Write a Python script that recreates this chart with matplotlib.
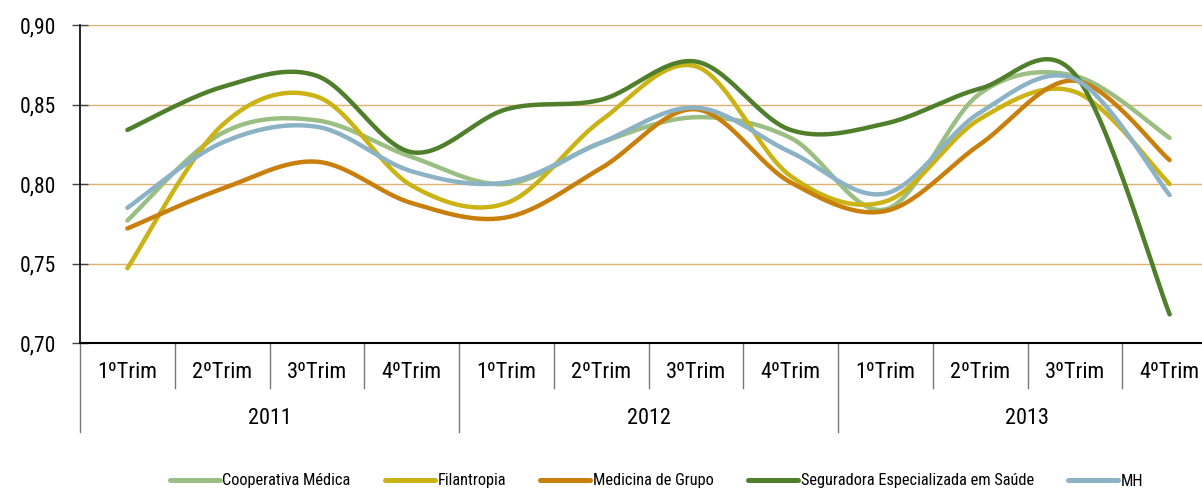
import numpy as np
import matplotlib
matplotlib.use("Agg")
import matplotlib.pyplot as plt
from matplotlib.lines import Line2D

plt.rcParams['font.family'] = ['Roboto Condensed', 'DejaVu Sans']

quarters = ['1ºTrim', '2ºTrim', '3ºTrim', '4ºTrim'] * 3
years = ['2011', '2012', '2013']

cooperativa = [0.777, 0.832, 0.840, 0.817, 0.800, 0.826, 0.842, 0.829, 0.784, 0.857, 0.868, 0.829]
filantropia = [0.747, 0.837, 0.855, 0.799, 0.788, 0.840, 0.874, 0.805, 0.789, 0.841, 0.858, 0.800]
medicina = [0.772, 0.797, 0.814, 0.788, 0.779, 0.810, 0.847, 0.801, 0.783, 0.825, 0.865, 0.815]
seguradora = [0.834, 0.861, 0.868, 0.820, 0.847, 0.853, 0.877, 0.834, 0.838, 0.860, 0.869, 0.718]
mh = [0.785, 0.826, 0.836, 0.808, 0.801, 0.826, 0.848, 0.820, 0.794, 0.845, 0.866, 0.793]

series = [
    ('Cooperativa Médica', cooperativa, '#9bbf82'),
    ('Filantropia', filantropia, '#cbb315'),
    ('Medicina de Grupo', medicina, '#c97f0c'),
    ('Seguradora Especializada em Saúde', seguradora, '#4f7f2b'),
    ('MH', mh, '#8cb2c6'),
]


def smooth(y, n=30):
    # bezier segments like the spreadsheet "smoothed line"
    x = np.arange(len(y), dtype=float)
    y = np.asarray(y, dtype=float)
    xs, ys = [], []
    t = np.linspace(0, 1, n)
    for i in range(len(y) - 1):
        p0 = np.array([x[i], y[i]])
        p3 = np.array([x[i + 1], y[i + 1]])
        prev = np.array([x[max(i - 1, 0)], y[max(i - 1, 0)]])
        nxt = np.array([x[min(i + 2, len(y) - 1)], y[min(i + 2, len(y) - 1)]])
        p1 = p0 + (p3 - prev) / 6
        p2 = p3 - (nxt - p0) / 6
        pts = ((1 - t) ** 3)[:, None] * p0 + (3 * (1 - t) ** 2 * t)[:, None] * p1 \
            + (3 * (1 - t) * t ** 2)[:, None] * p2 + (t ** 3)[:, None] * p3
        xs.extend(pts[:, 0])
        ys.extend(pts[:, 1])
    return xs, ys


fig = plt.figure(figsize=(12.02, 4.92), dpi=100)
ax = fig.add_axes([80 / 1202, 149 / 492, 1137 / 1202, 318 / 492])

for name, vals, col in series:
    sx, sy = smooth(vals)
    ax.plot(sx, sy, color=col, lw=3.2, solid_capstyle='round', label=name)

ax.set_xlim(-0.5, 11.5)
ax.set_ylim(0.70, 0.90)
ax.set_yticks([0.70, 0.75, 0.80, 0.85, 0.90])
ax.set_yticklabels(['0,70', '0,75', '0,80', '0,85', '0,90'], fontsize=15.5)
ax.tick_params(axis='y', direction='inout', length=11, width=1, color='#444444', pad=12)
ax.set_xticks([])
for v in [0.75, 0.80, 0.85, 0.90]:
    ax.axhline(v, color='#e0b272', lw=1, zorder=0)

for s in ['top', 'right']:
    ax.spines[s].set_visible(False)
ax.spines['left'].set_color('black')
ax.spines['bottom'].set_color('black')
ax.spines['left'].set_linewidth(1.2)
ax.spines['bottom'].set_linewidth(1.5)

trans = ax.get_xaxis_transform()
for i, q in enumerate(quarters):
    ax.text(i, -0.094, q, transform=trans, ha='center', va='center', fontsize=16)
    if i > 0 and i % 4 != 0:
        ax.plot([i - 0.5, i - 0.5], [0, -0.1415], transform=trans, color='#777777', lw=1, clip_on=False)
for j, yr in enumerate(years):
    ax.text(j * 4 + 1.5, -0.236, yr, transform=trans, ha='center', va='center', fontsize=16)
    ax.plot([j * 4 - 0.5, j * 4 - 0.5], [0, -0.28], transform=trans, color='#777777', lw=1, clip_on=False)

handles = [Line2D([], [], color=col, lw=3.6, solid_capstyle='round') for _, _, col in series]
fig.legend(handles, [n for n, _, _ in series], loc='center', bbox_to_anchor=(0.546, 11 / 492),
           ncol=5, frameon=False, fontsize=11.8, handlelength=3.05, handletextpad=0.18,
           columnspacing=2.07)

fig.savefig('out.png', dpi=100)
